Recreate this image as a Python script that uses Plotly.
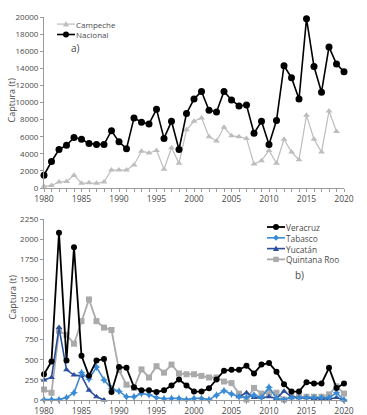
import plotly.graph_objects as go
from plotly.subplots import make_subplots

years = list(range(1980, 2021))

nacional = [1500, 3100, 4500, 5000, 5900, 5700, 5200, 5100, 5100, 6700,
            5400, 4600, 8200, 7700, 7500, 9200, 5800, 7800, 4500, 8700,
            10400, 11300, 9100, 8900, 11300, 10300, 9600, 9700, 6400, 7800,
            5100, 7900, 14300, 12900, 10400, 19800, 14200, 11200, 16500, 14500,
            13600]
campeche = [200, 300, 700, 750, 1500, 550, 600, 550, 700, 2100,
            2100, 2100, 2700, 4300, 4100, 4400, 2200, 4700, 2900, 6800,
            7800, 8200, 6000, 5500, 7100, 6100, 6000, 5800, 2800, 3200,
            4400, 2900, 5700, 4200, 3300, 8500, 5700, 4200, 9000, 6600,
            None]

veracruz = [320, 480, 2080, 490, 1900, 550, 300, 490, 510, 100,
            410, 400, 160, 120, 120, 100, 120, 180, 255, 180,
            105, 105, 145, 255, 365, 375, 375, 425, 330, 440,
            460, 350, 195, 105, 105, 220, 205, 205, 400, 150,
            205]
tabasco = [5, 5, 5, 30, 90, 340, 260, 410, 250, 140,
           110, 40, 40, 80, 65, 30, 15, 20, 20, 5,
           20, 20, 5, 60, 115, 75, 40, 33, 62, 30,
           160, 21, 5, 30, 30, 30, 30, 30, 30, 90,
           0]
yucatan = [250, 280, 900, 375, 310, 300, 120, 40, 0, None,
           None, None, None, None, None, None, None, None, None, None,
           None, None, None, None, None, None, 40, 90, 30, 30,
           40, 20, 110, 40, 30, 30, 20, 20, 10, 30,
           0]
quintana_roo = [130, 90, 860, 810, 700, 980, 1250, 980, 900, 870,
                370, 190, 150, 380, 280, 420, 340, 440, 330, 320,
                320, 300, 280, 280, 230, 210, 80, 5, 150, 80,
                90, 90, 5, 40, 40, 40, 40, 40, 70, 170,
                80]

FONT = "Open Sans"
TXT = "#4a4a4a"
AX = "#9a9a9a"

C_CAMP = "#bdbdbd"
C_NAC = "#000000"
C_VER = "#000000"
C_TAB = "#3a8ad4"
C_YUC = "#2c4f9c"
C_QR = "#aaaaaa"

# body margin is removed by post_script, so figure pixels == page pixels
PL, PR, PT, PB = 44, 344, 17, 400
W, H = 367, 415
ML, MT = PL, PT
MR = W - PR
MB = H - PB
PW = PR - PL
PH = PB - PT


def px(xpix):
    return (xpix - PL) / PW


def py(ypix):
    return (PB - ypix) / PH


fig = make_subplots(rows=2, cols=1, vertical_spacing=0.08)

# Panel a
fig.add_trace(go.Scatter(x=years, y=campeche, name="Campeche", mode="lines+markers",
                         line=dict(color=C_CAMP, width=1.2),
                         marker=dict(symbol="triangle-up", size=6, color=C_CAMP),
                         cliponaxis=False, showlegend=False), row=1, col=1)
fig.add_trace(go.Scatter(x=years, y=nacional, name="Nacional", mode="lines+markers",
                         line=dict(color=C_NAC, width=1.6),
                         marker=dict(symbol="circle", size=7, color=C_NAC),
                         cliponaxis=False, showlegend=False), row=1, col=1)

# Panel b
fig.add_trace(go.Scatter(x=years, y=quintana_roo, name="Quintana Roo", mode="lines+markers",
                         line=dict(color=C_QR, width=1.8),
                         marker=dict(symbol="square", size=6, color=C_QR),
                         cliponaxis=False, showlegend=False), row=2, col=1)
fig.add_trace(go.Scatter(x=years, y=yucatan, name="Yucatán", mode="lines+markers",
                         line=dict(color=C_YUC, width=1.6),
                         marker=dict(symbol="triangle-up", size=6, color=C_YUC),
                         cliponaxis=False, showlegend=False), row=2, col=1)
fig.add_trace(go.Scatter(x=years, y=tabasco, name="Tabasco", mode="lines+markers",
                         line=dict(color=C_TAB, width=1.6),
                         marker=dict(symbol="star-diamond", size=6, color=C_TAB),
                         cliponaxis=False, showlegend=False), row=2, col=1)
fig.add_trace(go.Scatter(x=years, y=veracruz, name="Veracruz", mode="lines+markers",
                         line=dict(color=C_VER, width=1.8),
                         marker=dict(symbol="circle", size=6, color=C_VER),
                         cliponaxis=False, showlegend=False), row=2, col=1)

xaxis_common = dict(range=[1980, 2020], tickmode="linear", tick0=1980, dtick=5,
                    showgrid=False, zeroline=False, showline=True, linecolor=AX, linewidth=1,
                    ticks="outside", ticklen=3, tickcolor=AX,
                    minor=dict(ticks="outside", ticklen=3, tickcolor=AX, dtick=1, tick0=1980),
                    tickfont=dict(family=FONT, size=8.5, color=TXT), automargin=False)
yaxis_common = dict(showgrid=False, zeroline=False, showline=True, linecolor=AX, linewidth=1,
                    ticks="outside", ticklen=3, tickcolor=AX, tickformat="d",
                    tickfont=dict(family=FONT, size=8, color=TXT), automargin=False)

fig.update_xaxes(**xaxis_common)
fig.update_yaxes(**yaxis_common)
fig.update_yaxes(range=[0, 20000], dtick=2000, row=1, col=1)
fig.update_yaxes(range=[0, 2250], dtick=250, row=2, col=1)

# manual legends: names, colors, symbols, line widths
legend_a_names = ["Campeche", "Nacional"]
legend_a_style = [(C_CAMP, "tri", 1.2), (C_NAC, "circle", 1.6)]
legend_b_names = ["Veracruz", "Tabasco", "Yucatán", "Quintana Roo"]
legend_b_style = [(C_VER, "circle", 1.8), (C_TAB, "diamond", 1.6),
                  (C_YUC, "tri", 1.6), (C_QR, "square", 1.8)]

shapes = []
annotations = []


def add_legend(names, styles, x0, x1, xtext, ycenter, fsize):
    xc = (x0 + x1) / 2
    step = 1.3 * fsize
    n = len(names)
    ys = [ycenter + (i - (n - 1) / 2) * step for i in range(n)]
    for (col, sym, lw), yy in zip(styles, ys):
        shapes.append(dict(type="line", xref="paper", yref="paper",
                           x0=px(x0), x1=px(x1), y0=py(yy), y1=py(yy),
                           line=dict(color=col, width=lw)))
        r = 3.0
        if sym == "circle":
            shapes.append(dict(type="circle", xref="paper", yref="paper",
                               x0=px(xc - r), x1=px(xc + r), y0=py(yy + r), y1=py(yy - r),
                               fillcolor=col, line=dict(color=col, width=0)))
        elif sym == "square":
            r = 2.7
            shapes.append(dict(type="rect", xref="paper", yref="paper",
                               x0=px(xc - r), x1=px(xc + r), y0=py(yy + r), y1=py(yy - r),
                               fillcolor=col, line=dict(color=col, width=0)))
        elif sym == "tri":
            p = "M {} {} L {} {} L {} {} Z".format(px(xc - 3), py(yy + 2.5), px(xc + 3), py(yy + 2.5),
                                                   px(xc), py(yy - 3))
            shapes.append(dict(type="path", xref="paper", yref="paper", path=p,
                               fillcolor=col, line=dict(color=col, width=0)))
        elif sym == "diamond":
            p = "M {} {} L {} {} L {} {} L {} {} Z".format(px(xc - 3), py(yy), px(xc), py(yy - 3),
                                                          px(xc + 3), py(yy), px(xc), py(yy + 3))
            shapes.append(dict(type="path", xref="paper", yref="paper", path=p,
                               fillcolor=col, line=dict(color=col, width=0)))
    annotations.append(dict(text="<br>".join(names), x=px(xtext), y=py(ycenter),
                            xref="paper", yref="paper", xanchor="left", yanchor="middle",
                            align="left", showarrow=False, borderpad=0,
                            font=dict(family=FONT, size=fsize, color=TXT)))


add_legend(legend_a_names, legend_a_style, 57, 75, 75, 29.3, 8)
add_legend(legend_b_names, legend_b_style, 267, 285, 285, 243.2, 8.3)

annotations += [
    dict(text="a)", x=px(75), y=py(47.5), xref="paper", yref="paper", showarrow=False,
         xanchor="center", yanchor="middle", font=dict(family=FONT, size=10, color=TXT)),
    dict(text="b)", x=px(299), y=py(275), xref="paper", yref="paper", showarrow=False,
         xanchor="center", yanchor="middle", font=dict(family=FONT, size=10, color=TXT)),
    dict(text="Captura (t)", x=px(11.5), y=py(100), xref="paper", yref="paper", showarrow=False,
         xanchor="center", yanchor="middle", textangle=-90,
         font=dict(family=FONT, size=9, color=TXT)),
    dict(text="Captura (t)", x=px(11.5), y=py(297), xref="paper", yref="paper", showarrow=False,
         xanchor="center", yanchor="middle", textangle=-90,
         font=dict(family=FONT, size=9, color=TXT)),
]

fig.update_layout(
    width=W, height=H,
    margin=dict(l=ML, r=MR, t=MT, b=MB, autoexpand=False),
    paper_bgcolor="white", plot_bgcolor="white",
    font=dict(family=FONT, color=TXT, size=8.5),
    showlegend=False,
    hovermode=False,
    xaxis=dict(domain=[0, 1]), xaxis2=dict(domain=[0, 1]),
    yaxis=dict(domain=[py(188), 1.0]),
    yaxis2=dict(domain=[0.0, py(219)]),
    shapes=shapes,
    annotations=annotations,
)

fig.write_html("out.html",
               config={"displayModeBar": False, "staticPlot": True},
               post_script="document.body.style.margin='0';document.body.style.overflow='hidden';")
